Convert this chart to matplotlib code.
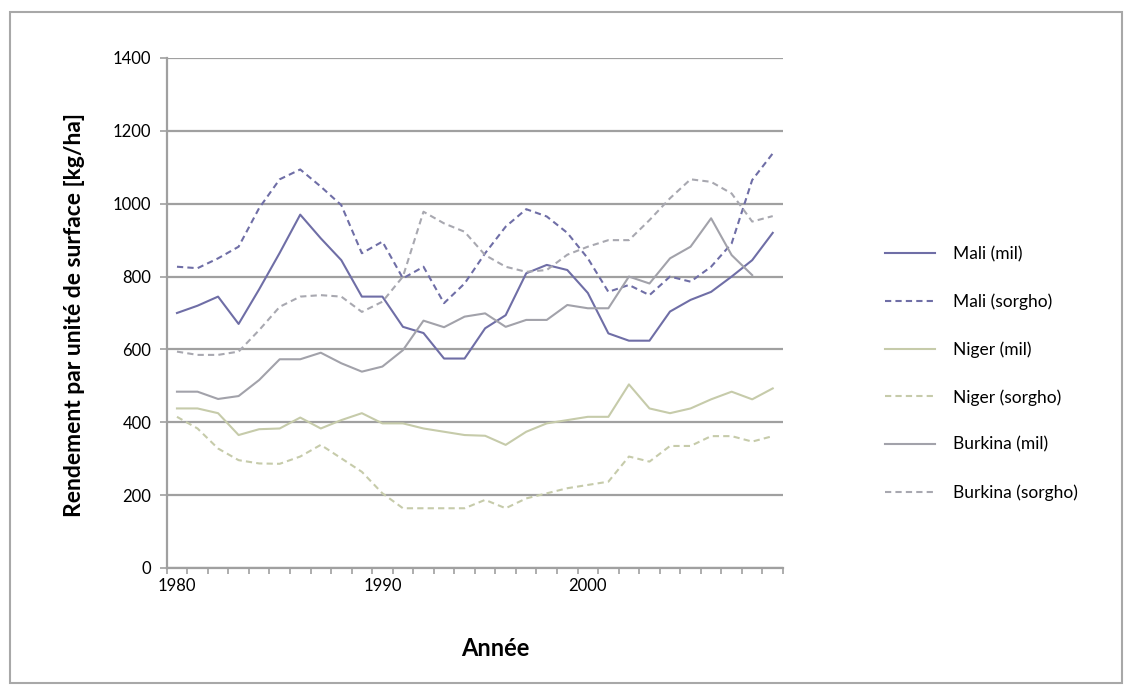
import numpy as np
import matplotlib.pyplot as plt
from matplotlib.patches import Rectangle

plt.rcParams['font.family'] = ['Lato', 'DejaVu Sans']

years = np.arange(1980, 2010)

mali_mil = [700, 720, 745, 670, 765, 865, 970, 905, 845, 745, 745, 662, 645, 575, 575, 658, 694, 809,
            832, 818, 755, 644, 624, 624, 704, 736, 758, 800, 845, 920]
mali_sorgho = [827, 823, 850, 882, 988, 1067, 1094, 1047, 996, 864, 896, 795, 827, 727, 781, 864, 937, 985,
               965, 920, 850, 758, 777, 749, 800, 786, 827, 891, 1065, 1138]
niger_mil = [438, 438, 425, 365, 381, 383, 413, 383, 406, 425, 397, 397, 383, 374, 365, 363, 338, 374,
             397, 406, 415, 415, 504, 438, 425, 438, 463, 484, 463, 493]
niger_sorgho = [415, 383, 328, 296, 287, 286, 306, 338, 301, 264, 205, 164, 164, 164, 164, 187, 164, 191,
                205, 219, 228, 237, 306, 292, 335, 335, 362, 362, 347, 362]
burkina_mil = [484, 484, 464, 472, 516, 573, 573, 591, 562, 539, 553, 598, 679, 661, 690, 699, 662, 681,
               681, 722, 713, 713, 800, 781, 850, 882, 960, 859, 804, np.nan]
burkina_sorgho = [594, 585, 585, 594, 653, 717, 745, 749, 745, 703, 731, 800, 978, 946, 923, 859, 827, 813,
                  818, 860, 882, 900, 900, 955, 1015, 1067, 1060, 1028, 951, 966]

series = [
    ('Mali (mil)', mali_mil, '#6f6ea6', '-'),
    ('Mali (sorgho)', mali_sorgho, '#6f6ea6', (0, (3, 2))),
    ('Niger (mil)', niger_mil, '#c6cbaa', '-'),
    ('Niger (sorgho)', niger_sorgho, '#c6cbaa', (0, (3, 2))),
    ('Burkina (mil)', burkina_mil, '#a2a2aa', '-'),
    ('Burkina (sorgho)', burkina_sorgho, '#a8a8b0', (0, (3, 2))),
]

fig = plt.figure(figsize=(11.32, 6.93), dpi=100)
ax = fig.add_axes([166.7 / 1132, 1 - 568 / 693, (783 - 166.7) / 1132, (568 - 58) / 693])

for label, vals, color, ls in series:
    ax.plot(years, vals, color=color, ls=ls, lw=1.5, label=label)

ax.set_xlim(1979.5, 2009.5)
ax.set_ylim(0, 1400)
ax.set_yticks(range(0, 1401, 200))
ax.yaxis.grid(True, color='#a0a0a0', lw=1.6)
ax.set_axisbelow(True)

ax.set_xticks([1980, 1990, 2000])
ax.set_xticks(np.arange(1979.5, 2010, 1), minor=True)
ax.tick_params(axis='x', which='major', length=0, labelsize=12, pad=7)
ax.tick_params(axis='x', which='minor', length=4, color='#a0a0a0', width=1.2)
ax.tick_params(axis='y', length=5, color='#a0a0a0', width=1.2, labelsize=12, pad=6)

for s in ['top', 'right']:
    ax.spines[s].set_visible(False)
for s in ['left', 'bottom']:
    ax.spines[s].set_color('#a0a0a0')
    ax.spines[s].set_linewidth(1.6)

fig.text(75 / 1132, 1 - 315 / 693, 'Rendement par unité de surface [kg/ha]', rotation=90,
         ha='center', va='center', fontsize=16.5, fontweight='bold')
fig.text(495 / 1132, 1 - 648 / 693, 'Année', ha='center', va='center', fontsize=17, fontweight='bold')

fig.legend(loc='upper left', bbox_to_anchor=(885 / 1132, 1 - 246 / 693), frameon=False,
           fontsize=12.5, handlelength=2.9, handletextpad=1.0, labelspacing=1.8,
           borderpad=0, borderaxespad=0)

fig.patches.append(Rectangle((10 / 1132, 1 - 683 / 693), 1112 / 1132, 671 / 693,
                             transform=fig.transFigure, fill=False, ec='#a8a8a8', lw=1.5))

fig.savefig('out.png', dpi=100)
